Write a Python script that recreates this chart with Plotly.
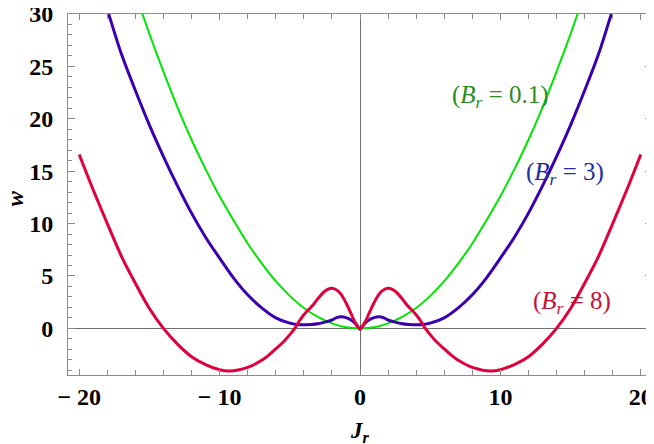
import plotly.graph_objects as go

# values
J_GREEN = [-16, -15, -14, -13, -12, -11, -10, -9, -8, -7, -6, -5, -4, -3, -2, -1, 0,
           1, 2, 3, 4, 5, 6, 7, 8, 9, 10, 11, 12, 13, 14, 15, 16]
W_GREEN = [32.0, 28.1, 24.5, 21.1, 18.0, 15.2, 12.6, 10.3, 8.1, 6.2, 4.5, 3.1, 1.95, 1.1, 0.48, 0.11, 0.0,
           0.11, 0.48, 1.1, 1.95, 3.1, 4.5, 6.2, 8.1, 10.3, 12.6, 15.2, 18.0, 21.1, 24.5, 28.1, 32.0]

J_BLUE = [-19, -18, -17, -16, -15, -14, -13, -12, -11, -10, -9, -8, -7, -6, -5, -4.5, -4,
          -3.5, -3, -2.5, -2, -1.7, -1.35, -1.0, -0.7, -0.4, -0.2, 0,
          0.2, 0.4, 0.7, 1.0, 1.35, 1.7, 2, 2.5, 3, 3.5, 4, 4.5, 5, 6, 7, 8, 9, 10,
          11, 12, 13, 14, 15, 16, 17, 18, 19]
W_BLUE = [34.4, 30.4, 26.2, 22.7, 19.4, 16.4, 13.6, 11.0, 8.7, 6.7, 4.8, 3.2, 1.95, 1.0, 0.5, 0.38, 0.35,
          0.38, 0.45, 0.6, 0.8, 1.0, 1.1, 1.03, 0.85, 0.55, 0.25, -0.05,
          0.25, 0.55, 0.85, 1.03, 1.1, 1.0, 0.8, 0.6, 0.45, 0.38, 0.35, 0.38, 0.5, 1.0, 1.95, 3.2, 4.8, 6.7,
          8.7, 11.0, 13.6, 16.4, 19.4, 22.7, 26.2, 30.4, 34.4]

J_RED = [-20, -19, -18, -17, -16, -15, -14, -13, -12, -11, -10, -9.3, -8, -7, -6.5, -6, -5.5, -5,
         -4.65, -4.3, -4.0, -3.8, -3.3, -2.9, -2.4, -2.0, -1.6, -1.3, -1.0, -0.7, -0.4, -0.2, 0,
         0.2, 0.4, 0.7, 1.0, 1.3, 1.6, 2.0, 2.4, 2.9, 3.3, 3.8, 4.0, 4.3, 4.65,
         5, 5.5, 6, 6.5, 7, 8, 9.3, 10, 11, 12, 13, 14, 15, 16, 17, 18, 19, 20]
W_RED = [16.6, 13.2, 10.0, 6.9, 4.3, 1.9, 0.0, -1.5, -2.7, -3.45, -3.95, -4.07, -3.72, -3.05, -2.55, -1.95, -1.35, -0.6,
         0.0, 0.75, 1.3, 1.6, 2.3, 3.0, 3.65, 3.82, 3.6, 3.15, 2.45, 1.6, 0.7, 0.25, -0.1,
         0.25, 0.7, 1.6, 2.45, 3.15, 3.6, 3.82, 3.65, 3.0, 2.3, 1.6, 1.3, 0.75, 0.0,
         -0.6, -1.35, -1.95, -2.55, -3.05, -3.72, -4.07, -3.95, -3.45, -2.7, -1.5, 0.0, 1.9, 4.3, 6.9, 10.0, 13.2, 16.6]

X_TICKS = [-20, -10, 0, 10, 20]
X_TICK_TEXT = ["\u2212 20", "\u2212 10", "0", "10", "20"]
Y_TICKS = [0, 5, 10, 15, 20, 25, 30]

LABELS = ["(<i>B<sub>r</sub></i> = 0.1)", "(<i>B<sub>r</sub></i> = 3)", "(<i>B<sub>r</sub></i> = 8)"]
LABEL_X = [10.0, 14.6, 15.1]
LABEL_Y = [22.1, 14.8, 2.5]

GREEN, BLUE, RED = "#00e600", "#3a00b0", "#e0003c"
TEXT_COLS = ["#2e8b1e", "#1c2fa0", "#c8103c"]
FRAME = "#8c8c8c"
SERIF = "Liberation Serif, Times New Roman, serif"

fig = go.Figure()
fig.add_scatter(x=J_GREEN, y=W_GREEN, mode="lines", line=dict(color=GREEN, width=2, shape="spline"))
fig.add_scatter(x=J_BLUE, y=W_BLUE, mode="lines", line=dict(color=BLUE, width=3, shape="spline"))
fig.add_scatter(x=J_RED, y=W_RED, mode="lines", line=dict(color=RED, width=3, shape="spline"))

for txt, x, y, c in zip(LABELS, LABEL_X, LABEL_Y, TEXT_COLS):
    fig.add_annotation(x=x, y=y, text=txt, showarrow=False,
                       font=dict(family=SERIF, size=25, color=c))

# y-axis title as a rotated annotation so it can sit further left than the margin allows
fig.add_annotation(x=0, y=0.5, xref="paper", yref="paper", xanchor="center", yanchor="middle",
                   xshift=-53, yshift=-4,
                   text="<b><i>w</i></b>", textangle=-90, showarrow=False,
                   font=dict(family=SERIF, size=23, color="black"))

axis_common = dict(showline=True, linecolor=FRAME, linewidth=1, mirror="ticks",
                   ticks="inside", tickcolor=FRAME, showgrid=False, automargin=False,
                   zeroline=True, zerolinecolor="#6e6e6e", zerolinewidth=1,
                   ticklabeloverflow="allow",
                   tickfont=dict(family=SERIF, size=24, color="black", weight="bold"))

fig.update_xaxes(range=[-20.8, 20.8], tickvals=X_TICKS, ticktext=X_TICK_TEXT, ticklen=6,
                 minor=dict(dtick=2, ticks="inside", ticklen=5, tickcolor=FRAME),
                 ticklabelstandoff=0,
                 title=dict(text="<b><i>J<sub>r</sub></i></b>", standoff=13,
                            font=dict(family=SERIF, size=23, color="black")),
                 **axis_common)
fig.update_yaxes(range=[-4.45, 30], tickvals=Y_TICKS, ticklen=7,
                 minor=dict(dtick=1, ticks="inside", ticklen=4, tickcolor=FRAME),
                 ticklabelstandoff=9,
                 **axis_common)

# page body adds an 8px offset, so margins are shifted to keep the plot where the reference has it
fig.update_layout(width=654, height=444, showlegend=False,
                  margin=dict(l=60, r=10, t=6, b=77),
                  plot_bgcolor="white", paper_bgcolor="white")

fig.write_html("out.html")
